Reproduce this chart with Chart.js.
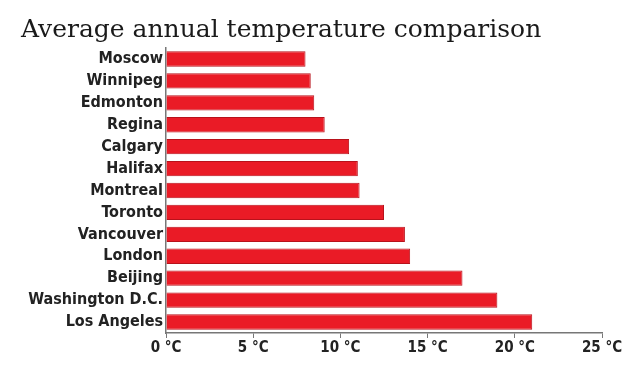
<!DOCTYPE html>
<html>
<head>
<meta charset="utf-8">
<script src="https://cdn.jsdelivr.net/npm/chart.js@4"></script>
<style>
  html, body { margin: 0; padding: 0; background: #fff; }
  #wrap { width: 640px; height: 367px; }
</style>
</head>
<body>
<div id="wrap"><canvas id="chart1" width="640" height="367"></canvas></div>
<script>
const cities = ['Moscow', 'Winnipeg', 'Edmonton', 'Regina', 'Calgary', 'Halifax', 'Montreal',
    'Toronto', 'Vancouver', 'London', 'Beijing', 'Washington D.C.', 'Los Angeles'];
const avgTemps = [8.0, 8.3, 8.5, 9.1, 10.5, 11.0, 11.1, 12.5, 13.7, 14.0, 17.0, 19.0, 21.0];
const tickValues = [0, 5, 10, 15, 20, 25];
const chartTitle = 'Average annual temperature comparison';

document.addEventListener('DOMContentLoaded', function() {
    const ctx1 = document.getElementById('chart1').getContext('2d');

    const chart1 = new Chart(ctx1, {
        type: 'bar',
        data: {
            labels: cities,
            datasets: [{
                label: 'Average temperature',
                data: avgTemps,
                backgroundColor: '#ea1b26',
                borderColor: '#b8121b',
                borderWidth: 1,
                borderSkipped: 'left',
                categoryPercentage: 1,
                barPercentage: 0.7
            }]
        },
        options: {
            indexAxis: 'y',
            responsive: false,
            animation: false,
            layout: {
                padding: { left: 21, right: 38, top: 0, bottom: 0 }
            },
            plugins: {
                legend: { display: false },
                tooltip: { enabled: false },
                title: {
                    display: true,
                    text: chartTitle,
                    align: 'start',
                    color: '#1a1a1a',
                    font: { family: 'DejaVu Serif', size: 25, weight: 'normal' },
                    padding: { top: 15, bottom: 3 }
                }
            },
            scales: {
                x: {
                    min: 0,
                    max: 25,
                    afterBuildTicks: function(scale) {
                        scale.ticks = tickValues.map(v => ({ value: v }));
                    },
                    afterFit: function(scale) {
                        scale.height = 34;
                    },
                    border: { display: true, color: '#777', width: 1.5 },
                    grid: { display: true, drawOnChartArea: false, drawTicks: true, tickLength: 5, color: '#777' },
                    ticks: {
                        color: '#222',
                        padding: 1,
                        maxRotation: 0,
                        font: { family: 'DejaVu Sans Condensed', size: 15, weight: 'bold' },
                        callback: function(v) { return v + ' °C'; }
                    }
                },
                y: {
                    afterFit: function(scale) {
                        scale.width = 145;
                    },
                    border: { display: true, color: '#777', width: 1.5 },
                    grid: { display: false, tickLength: 0 },
                    ticks: {
                        color: '#222',
                        padding: 3,
                        autoSkip: false,
                        font: { family: 'DejaVu Sans Condensed', size: 16, weight: 'bold' }
                    }
                }
            }
        }
    });
});
</script>
</body>
</html>
